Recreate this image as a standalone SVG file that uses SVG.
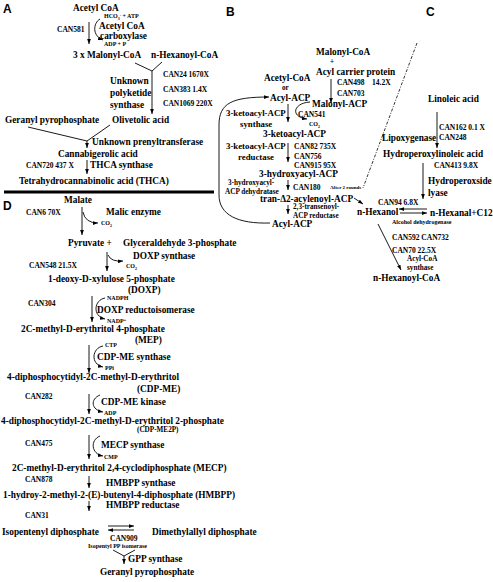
<svg xmlns="http://www.w3.org/2000/svg" width="493" height="582" viewBox="0 0 493 582">
<style>
text{font-family:"Liberation Serif","Times New Roman",serif;font-weight:bold;fill:#000}
.t{font-size:9.3px}
.e{font-size:8.8px}
.c{font-size:7.5px}
.m{font-size:7.2px}
.s{font-size:6px}
.xs{font-size:5px}
.lbl{font-family:"Liberation Sans",Arial,sans-serif;font-size:12px}
.ln{stroke:#000;stroke-width:0.9;fill:none}
.ar{stroke:#000;stroke-width:0.9;fill:none;marker-end:url(#ah)}
</style>
<defs>
<marker id="ah" viewBox="0 0 8 6" refX="8" refY="3" markerWidth="5" markerHeight="4" orient="auto" markerUnits="userSpaceOnUse"><path d="M0,0 L8,3 L0,6 z" fill="#000"/></marker>
</defs>
<rect width="493" height="582" fill="#fff"/>

<g id="connectors">
<!-- Panel A -->
<path class="ar" d="M89,22 L89,44"/>
<path class="ar" d="M100,19 C93,23 92,36 103,40"/>
<path class="ln" d="M135,63 L152,71 L162,62"/>
<path class="ar" d="M152,71 L152,114"/>
<path class="ln" d="M28,127 L87,141 L110,125"/>
<path class="ar" d="M87,141 L87,148"/>
<path class="ar" d="M87,160 L87,174"/>
<path d="M4,192 L214,192" stroke="#000" stroke-width="3"/>
<!-- Panel D -->
<path class="ar" d="M82,207 L82,235"/>
<path class="ar" d="M83,212 Q85,223 98,223"/>
<path class="ar" d="M107,252 L107,271"/>
<path class="ar" d="M108,255 Q111,262 123,261"/>
<path class="ar" d="M92,296 L92,322"/>
<path class="ar" d="M105,298 C94,300 92,316 105,319"/>
<path class="ar" d="M89,345 L89,373"/>
<path class="ar" d="M103,346 C92,348 90,364 103,367"/>
<path class="ar" d="M89,394 L89,414"/>
<path class="ar" d="M100,395 C90,399 91,410 103,412"/>
<path class="ar" d="M89,435 L89,459"/>
<path class="ar" d="M100,436 C90,440 91,454 103,456"/>
<path class="ar" d="M89,476 L89,488"/>
<path class="ar" d="M89,501 L89,511"/>
<path class="ar" d="M108,526 L134,526"/>
<path class="ar" d="M134,530 L108,530"/>
<path class="ln" d="M113,550 L124,556 L135,550"/>
<path class="ar" d="M124,556 L124,564"/>
<!-- Panel B -->
<path class="ar" d="M331,79 L331,103"/>
<path class="ar" d="M288,104 L288,122"/>
<path class="ar" d="M310,102 C293,103 290,117 307,119"/>
<path class="ar" d="M288,143 L288,162"/>
<path class="ar" d="M288,180 L288,190"/>
<path class="ar" d="M354,198 L363,204"/>
<path class="ar" d="M288,205 L288,214"/>
<path class="ar" d="M270,223 C238,224 219,215 219,195 L219,125 C219,103 232,97 269,97"/>
<!-- Panel C -->
<path d="M417,43 L363,188" stroke="#000" stroke-width="0.8" stroke-dasharray="3,1.5,1,1.5" fill="none"/>
<path class="ar" d="M437,112 L437,148"/>
<path class="ar" d="M423,163 L423,199"/>
<path class="ar" d="M427,209 L399,209"/>
<path class="ar" d="M400,213 L427,213"/>
<path class="ar" d="M378,224 L401,270"/>
</g>

<g id="panel-labels">
<text class="lbl" x="3" y="13">A</text>
<text class="lbl" x="226" y="16">B</text>
<text class="lbl" x="426" y="16">C</text>
<text class="lbl" x="3" y="210">D</text>
</g>

<g id="panelA">
<g id="acetylcoa"><text class="t" x="73" y="11">Acetyl CoA</text></g>
<g id="acc"><text class="s" x="104" y="18">HCO<tspan font-size="4" dy="1.5">3</tspan><tspan font-size="4" dy="-4">-</tspan><tspan dy="2.5"> + ATP</tspan></text>
<text class="t" x="99" y="29">Acetyl CoA</text>
<text class="t" x="100" y="39">carboxylase</text>
<text class="s" x="104" y="46">ADP + P</text>
<text class="c" x="57" y="32">CAN581</text></g>
<g id="malonylcoa"><text class="t" x="73" y="58">3 x Malonyl-CoA</text></g>
<g id="hexanoylcoa"><text class="t" x="151" y="58">n-Hexanoyl-CoA</text></g>
<g id="pks"><text class="t" x="110" y="84">Unknown</text>
<text class="t" x="110" y="96">polyketide</text>
<text class="t" x="110" y="108">synthase</text>
<text class="c" x="163" y="77">CAN24  1670X</text>
<text class="c" x="163" y="92">CAN383  1.4X</text>
<text class="c" x="163" y="106">CAN1069  220X</text></g>
<g id="gppA"><text class="t" x="5" y="123">Geranyl pyrophosphate</text></g>
<g id="olivetolic"><text class="t" x="112" y="123">Olivetolic acid</text></g>
<g id="prenyl"><text class="t" x="92" y="145">Unknown prenyltransferase</text></g>
<g id="cbga"><text class="t" x="58" y="157">Cannabigerolic acid</text></g>
<g id="thcas"><text class="c" x="26" y="168">CAN720  437 X</text>
<text class="t" x="90" y="168">THCA  synthase</text></g>
<g id="thca"><text class="t" x="19" y="184">Tetrahydrocannabinolic acid (THCA)</text></g>
</g>

<g id="panelD">
<g id="malate"><text class="t" x="64" y="203">Malate</text></g>
<g id="malic"><text class="t" x="106" y="215">Malic enzyme</text>
<text class="c" x="26" y="215">CAN6  70X</text>
<text class="s" x="101" y="225">CO<tspan font-size="4" dy="1.5">2</tspan></text></g>
<g id="pyruvate"><text class="t" x="68" y="246">Pyruvate +</text></g>
<g id="g3p"><text class="t" x="123" y="246">Glyceraldehyde 3-phosphate</text></g>
<g id="doxps"><text class="t" x="133" y="259">DOXP synthase</text>
<text class="c" x="29" y="268">CAN548 21.5X</text>
<text class="s" x="126" y="268">CO<tspan font-size="4" dy="1.5">2</tspan></text></g>
<g id="doxp"><text class="t" x="48" y="282">1-deoxy-D-xylulose 5-phosphate</text>
<text class="t" x="128" y="293">(DOXP)</text></g>
<g id="dxr"><text class="c" x="28" y="306">CAN304</text>
<text class="s" x="107" y="300">NADPH</text>
<text class="t" x="97" y="313">DOXP reductoisomerase</text>
<text class="s" x="107" y="323">NADP<tspan font-size="4" dy="-2">+</tspan></text></g>
<g id="mep"><text class="t" x="21" y="332">2C-methyl-D-erythritol 4-phosphate</text>
<text class="t" x="135" y="343">(MEP)</text></g>
<g id="cdpmes"><text class="s" x="105" y="347">CTP</text>
<text class="t" x="97" y="360">CDP-ME synthase</text>
<text class="s" x="105" y="370">PPi</text></g>
<g id="cdpme"><text class="t" x="7" y="380">4-diphosphocytidyl-2C-methyl-D-erythritol</text>
<text class="t" x="137" y="392">(CDP-ME)</text></g>
<g id="cdpmek"><text class="c" x="25" y="399">CAN282</text>
<text class="t" x="101" y="405">CDP-ME kinase</text>
<text class="s" x="104" y="415">ADP</text></g>
<g id="cdpme2p"><text class="t" x="1" y="424">4-diphosphocytidyl-2C-methyl-D-erythritol 2-phosphate</text>
<text class="m" x="137" y="432">(CDP-ME2P)</text></g>
<g id="mecps"><text class="c" x="25" y="446">CAN475</text>
<text class="t" x="101" y="448">MECP synthase</text>
<text class="s" x="104" y="459">CMP</text></g>
<g id="mecp"><text class="t" x="12" y="471">2C-methyl-D-erythritol 2,4-cyclodiphosphate (MECP)</text></g>
<g id="hmbpps"><text class="c" x="25" y="482">CAN878</text>
<text class="t" x="106" y="486">HMBPP synthase</text></g>
<g id="hmbpp"><text class="t" x="3" y="498">1-hydroy-2-methyl-2-(E)-butenyl-4-diphosphate (HMBPP)</text></g>
<g id="hmbppr"><text class="t" x="106" y="508">HMBPP reductase</text>
<text class="c" x="25" y="518">CAN31</text></g>
<g id="ipp"><text class="t" x="2" y="535">Isopentenyl diphosphate</text></g>
<g id="dmapp"><text class="t" x="152" y="535">Dimethylallyl diphosphate</text></g>
<g id="idi"><text class="c" x="110" y="541">CAN909</text>
<text class="s" x="88" y="548">Isopentyl PP isomerase</text></g>
<g id="gpps"><text class="t" x="128" y="562">GPP synthase</text></g>
<g id="gppD"><text class="t" x="100" y="575">Geranyl pyrophosphate</text></g>
</g>

<g id="panelB">
<g id="malonylcoaB"><text class="t" x="316" y="55">Malonyl-CoA</text>
<text class="m" x="330" y="64">+</text>
<text class="t" x="316" y="75">Acyl carrier protein</text></g>
<g id="acetylcoaB"><text class="t" x="264" y="81">Acetyl-CoA</text>
<text class="m" x="282" y="90">or</text>
<text class="t" x="270" y="101">Acyl-ACP</text></g>
<g id="mcat"><text class="c" x="337" y="85">CAN498</text>
<text class="c" x="372" y="85">14.2X</text>
<text class="c" x="337" y="96">CAN703</text></g>
<g id="malonylacp"><text class="t" x="312" y="107">Malonyl-ACP</text></g>
<g id="kas"><text class="c" x="298" y="117">CAN541</text>
<text class="e" x="226" y="116">3-ketoacyl-ACP</text>
<text class="e" x="240" y="127">synthase</text>
<text class="s" x="309" y="126">CO<tspan font-size="4" dy="1.5">2</tspan></text></g>
<g id="ketoacyl"><text class="t" x="263" y="137">3-ketoacyl-ACP</text></g>
<g id="kar"><text class="e" x="226" y="149">3-ketoacyl-ACP</text>
<text class="e" x="238" y="160">reductase</text>
<text class="c" x="294" y="149">CAN82   735X</text>
<text class="c" x="294" y="159">CAN756</text>
<text class="c" x="294" y="168">CAN915  95X</text></g>
<g id="hydroxyacyl"><text class="t" x="259" y="177">3-hydroxyacyl-ACP</text></g>
<g id="had"><text class="m" x="228" y="185">3-hydroxyacyl-</text>
<text class="m" x="225" y="194">ACP dehydratase</text>
<text class="c" x="293" y="190">CAN180</text>
<text class="xs" x="330" y="189">After 2 rounds</text></g>
<g id="enoyl"><text class="t" x="260" y="202">tran-Δ2-acylenoyl-ACP</text></g>
<g id="ear"><text class="m" x="293" y="209">2,3-transenoyl-</text>
<text class="m" x="293" y="218">ACP reductase</text></g>
<g id="acylacp"><text class="t" x="272" y="227">Acyl-ACP</text></g>
</g>

<g id="panelC">
<g id="linoleic"><text class="t" x="428" y="102">Linoleic acid</text></g>
<g id="lox"><text class="c" x="439" y="130">CAN162 0.1 X</text>
<text class="c" x="439" y="140">CAN248</text>
<text class="t" x="382" y="141">Lipoxygenase</text></g>
<g id="hpla"><text class="t" x="383" y="157">Hydroperoxylinoleic acid</text></g>
<g id="hpl"><text class="c" x="434" y="168">CAN413  9.8X</text>
<text class="t" x="428" y="184">Hydroperoxside</text>
<text class="t" x="428" y="196">lyase</text></g>
<g id="hexanol"><text class="t" x="357" y="215">n-Hexanol</text></g>
<g id="hexanal"><text class="t" x="430" y="216">n-Hexanal+C12</text></g>
<g id="adh"><text class="c" x="378" y="205">CAN94  6.8X</text>
<text class="s" x="392" y="224">Alcohol dehydrogenase</text></g>
<g id="acs"><text class="c" x="392" y="240">CAN592 CAN732</text>
<text class="c" x="392" y="253">CAN70   22.5X</text>
<text class="m" x="407" y="261">Acyl-CoA</text>
<text class="m" x="407" y="270">synthase</text></g>
<g id="hexanoylcoaC"><text class="t" x="373" y="281">n-Hexanoyl-CoA</text></g>
</g>
</svg>
